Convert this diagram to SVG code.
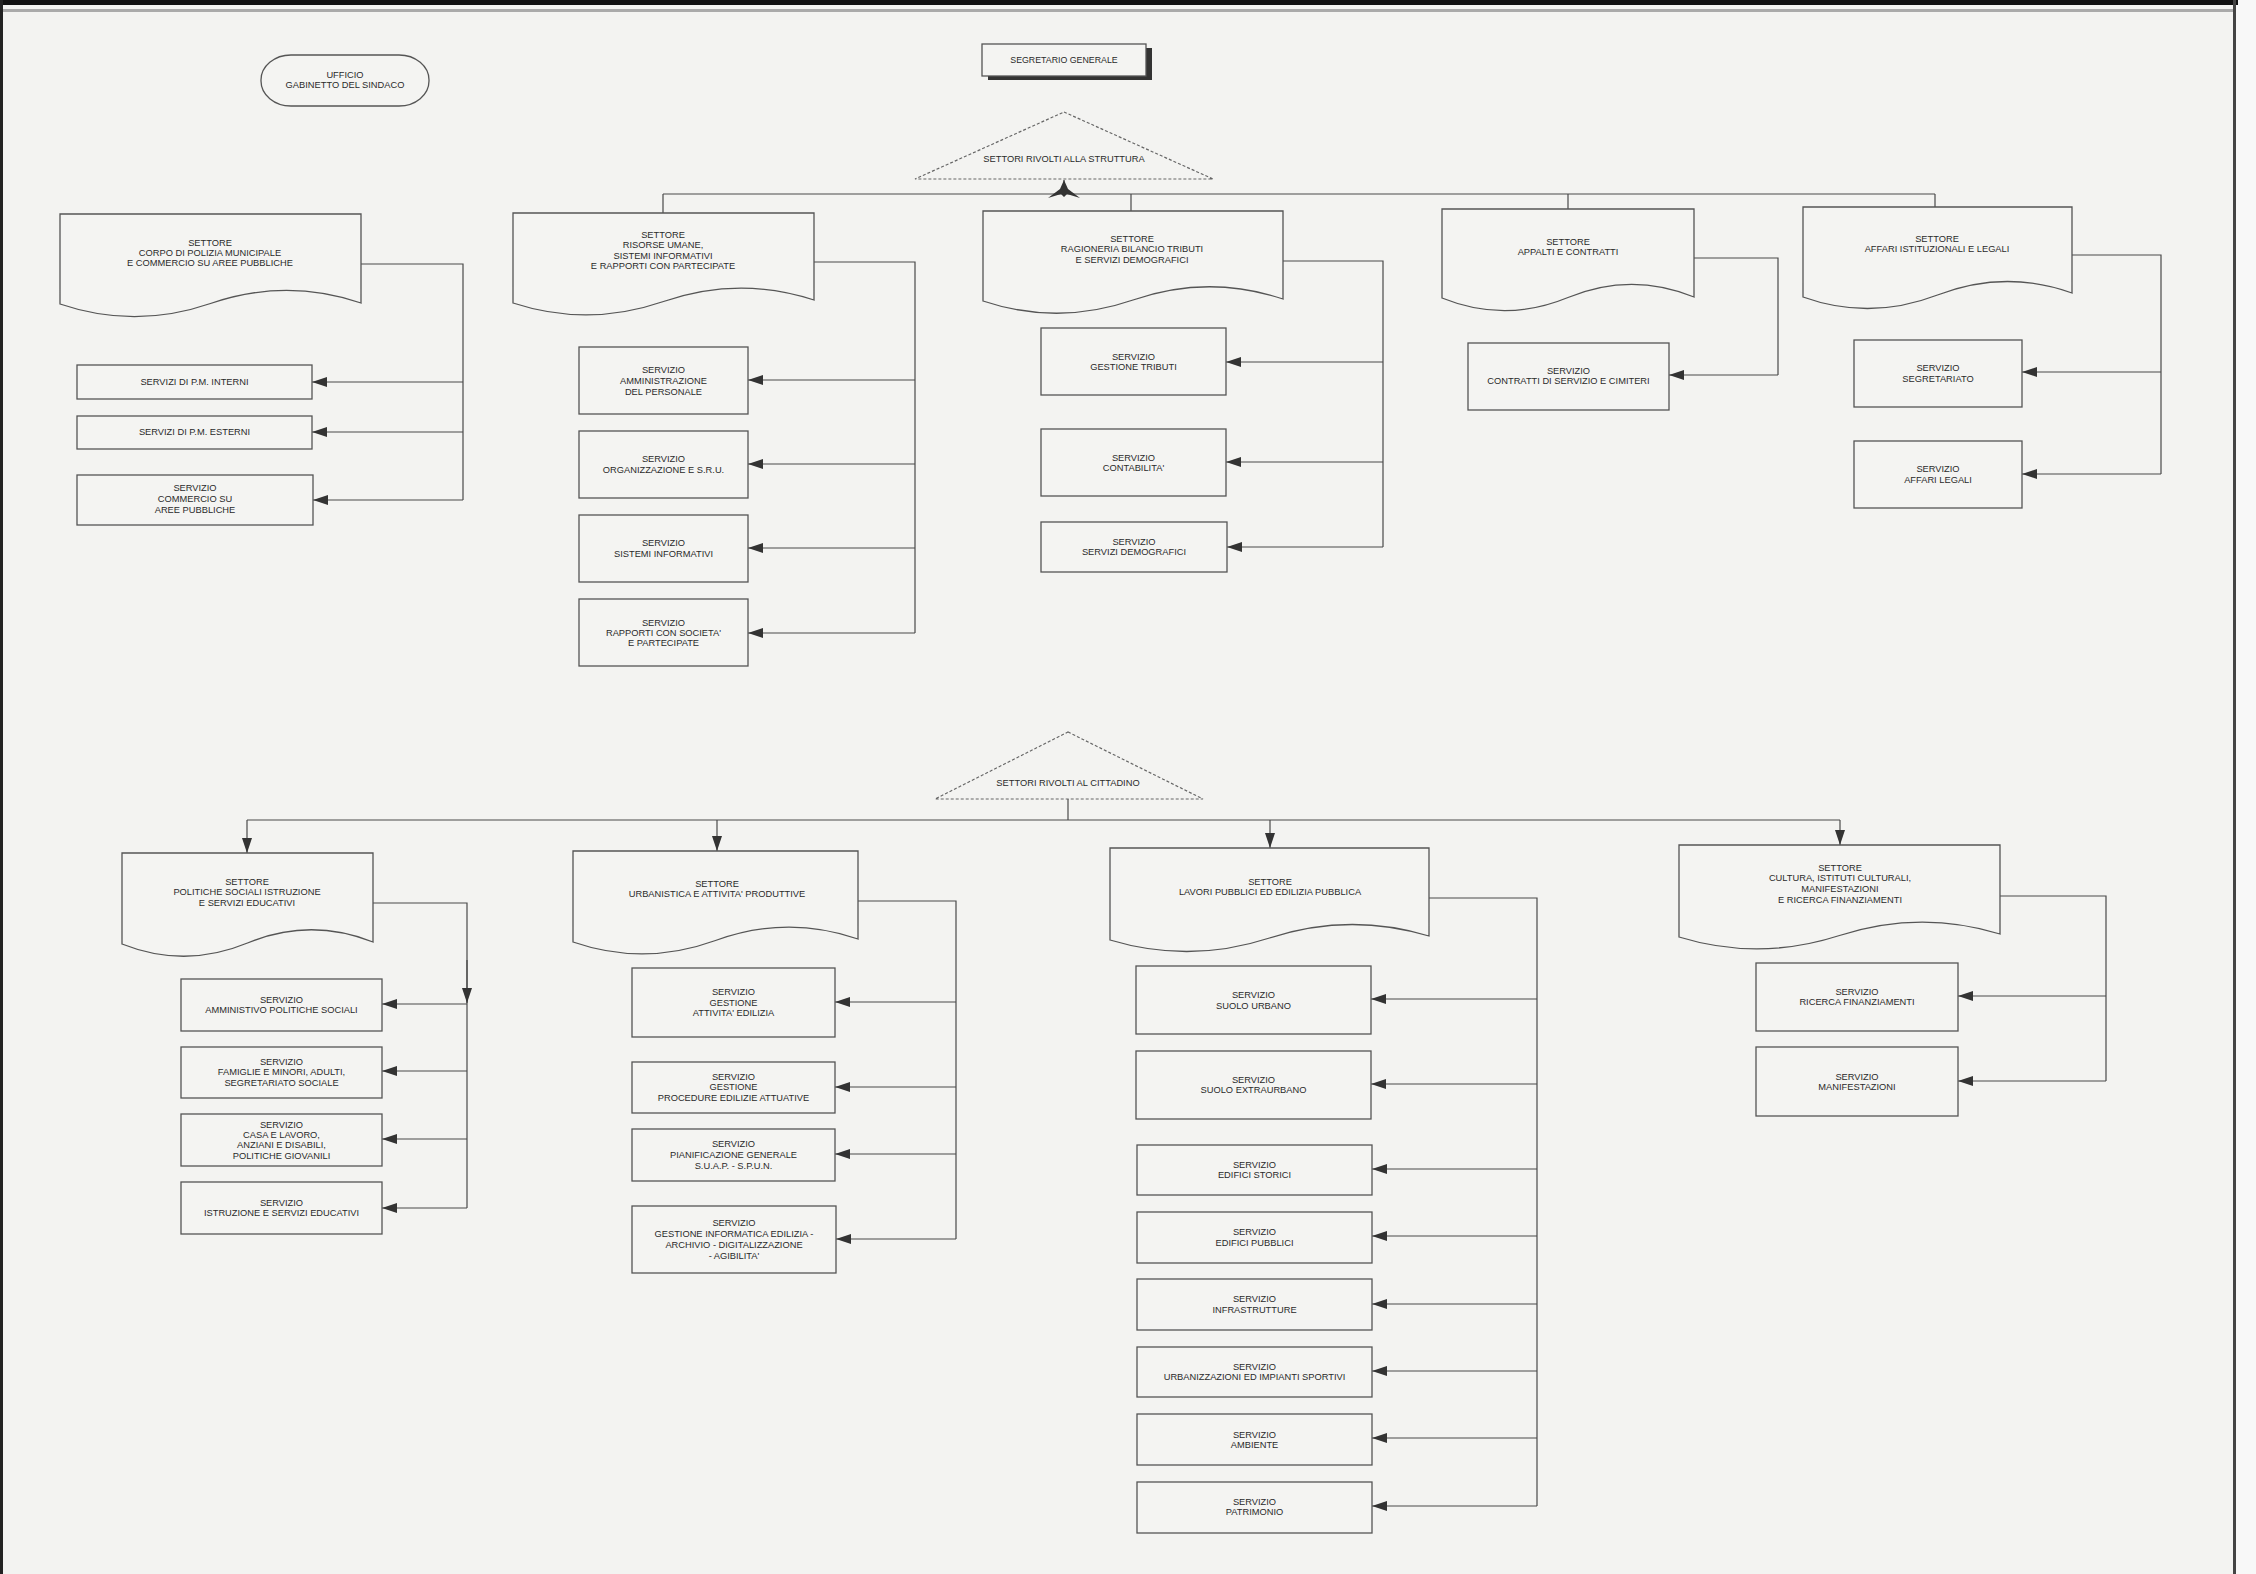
<svg xmlns="http://www.w3.org/2000/svg" width="2256" height="1574" viewBox="0 0 2256 1574">
<style>
.box{fill:#f4f4f2;stroke:#555;stroke-width:1.3}
.ln{fill:none;stroke:#4a4a4a;stroke-width:1.2}
.arr{marker-end:url(#ah)}
.dot{fill:none;stroke:#666;stroke-width:1.2;stroke-dasharray:3 2}
text{font-family:"Liberation Sans",Arial,sans-serif;font-size:9.3px;fill:#2a2a2a;text-anchor:middle}
</style>
<defs>
<marker id="ah" markerUnits="userSpaceOnUse" markerWidth="16" markerHeight="11" refX="15" refY="5" orient="auto"><path d="M0,0 L15,5 L0,10 Z" fill="#333"/></marker>
</defs>
<rect x="0" y="0" width="2256" height="1574" fill="#f3f3f1"/>
<rect x="2236" y="0" width="20" height="1574" fill="#f8f8f8"/>
<rect x="0" y="0" width="2238" height="5" fill="#111"/>
<rect x="0" y="9" width="2236" height="3" fill="#aaa"/>
<rect x="0" y="0" width="3" height="1574" fill="#222"/>
<rect x="2233" y="0" width="3" height="1574" fill="#444"/>

<g id="connectors">
<!-- top bus -->
<path class="ln" d="M1064,180 V194"/>
<path class="ln" d="M663,194 H1935"/>
<path class="ln" d="M663,194 V213 M1131,194 V211 M1568,194 V209 M1935,194 V207"/>
<polygon points="1064,180 1068,189 1080,198 1067,194 1064,197 1061,194 1048,198 1060,189" fill="#333"/>
<!-- polizia -->
<path class="ln" d="M361,264 H463 V500"/>
<path class="ln arr" d="M463,382 H312"/>
<path class="ln arr" d="M463,432 H312"/>
<path class="ln arr" d="M463,500 H313"/>
<!-- risorse -->
<path class="ln" d="M814,262 H915 V633"/>
<path class="ln arr" d="M915,380 H748"/>
<path class="ln arr" d="M915,464 H748"/>
<path class="ln arr" d="M915,548 H748"/>
<path class="ln arr" d="M915,633 H748"/>
<!-- ragioneria -->
<path class="ln" d="M1283,261 H1383 V547"/>
<path class="ln arr" d="M1383,362 H1226"/>
<path class="ln arr" d="M1383,462 H1226"/>
<path class="ln arr" d="M1383,547 H1227"/>
<!-- appalti -->
<path class="ln" d="M1694,258 H1778 V375"/>
<path class="ln arr" d="M1778,375 H1669"/>
<!-- affari -->
<path class="ln" d="M2072,255 H2161 V474"/>
<path class="ln arr" d="M2161,372 H2022"/>
<path class="ln arr" d="M2161,474 H2022"/>
<!-- lower bus -->
<path class="ln" d="M1068,799 V820"/>
<path class="ln" d="M247,820 H1840"/>
<path class="ln arr" d="M247,820 V853"/>
<path class="ln arr" d="M717,820 V851"/>
<path class="ln arr" d="M1270,820 V848"/>
<path class="ln arr" d="M1840,820 V845"/>
<!-- politiche -->
<path class="ln" d="M373,903 H467 V1208"/>
<path class="ln arr" d="M467,960 V1003"/>
<path class="ln arr" d="M467,1004 H382"/>
<path class="ln arr" d="M467,1071 H382"/>
<path class="ln arr" d="M467,1139 H382"/>
<path class="ln arr" d="M467,1208 H382"/>
<!-- urbanistica -->
<path class="ln" d="M858,901 H956 V1239"/>
<path class="ln arr" d="M956,1002 H835"/>
<path class="ln arr" d="M956,1087 H835"/>
<path class="ln arr" d="M956,1154 H835"/>
<path class="ln arr" d="M956,1239 H836"/>
<!-- lavori -->
<path class="ln" d="M1429,898 H1537 V1506"/>
<path class="ln arr" d="M1537,999 H1371"/>
<path class="ln arr" d="M1537,1084 H1371"/>
<path class="ln arr" d="M1537,1169 H1372"/>
<path class="ln arr" d="M1537,1236 H1372"/>
<path class="ln arr" d="M1537,1304 H1372"/>
<path class="ln arr" d="M1537,1371 H1372"/>
<path class="ln arr" d="M1537,1438 H1372"/>
<path class="ln arr" d="M1537,1506 H1372"/>
<!-- cultura -->
<path class="ln" d="M2000,896 H2106 V1081"/>
<path class="ln arr" d="M2106,996 H1958"/>
<path class="ln arr" d="M2106,1081 H1958"/>
</g>

<g id="n-ufficio">
<rect class="box" x="261" y="55" width="168" height="51" rx="30" ry="25"/>
<text x="345" y="78.3">UFFICIO</text>
<text x="345" y="88.3">GABINETTO DEL SINDACO</text>
</g>

<g id="n-segretario">
<rect x="988" y="48" width="164" height="32" fill="#333"/>
<rect class="box" x="982" y="44" width="164" height="32"/>
<text x="1064" y="63.3" style="font-size:8.8px">SEGRETARIO GENERALE</text>
</g>

<g id="n-tri-struttura">
<path class="dot" d="M1064,112 L1213,179 H915 Z"/>
<text x="1064" y="162.3">SETTORI RIVOLTI ALLA STRUTTURA</text>
</g>

<g id="n-s-polizia">
<path class="box" d="M60,214 H361 V303 Q286,277.5 210.5,303.5 Q135,329.5 60,304 Z"/>
<text x="210" y="246.3">SETTORE</text>
<text x="210" y="256.3">CORPO DI POLIZIA MUNICIPALE</text>
<text x="210" y="266.3">E COMMERCIO SU AREE PUBBLICHE</text>
</g>
<g id="n-pm-interni">
<rect class="box" x="77" y="365" width="235" height="34"/>
<text x="194.5" y="385.3">SERVIZI DI P.M. INTERNI</text>
</g>
<g id="n-pm-esterni">
<rect class="box" x="77" y="416" width="235" height="33"/>
<text x="194.5" y="435.3">SERVIZI DI P.M. ESTERNI</text>
</g>
<g id="n-commercio">
<rect class="box" x="77" y="475" width="236" height="50"/>
<text x="195" y="491.3">SERVIZIO</text>
<text x="195" y="502.3">COMMERCIO SU</text>
<text x="195" y="513.3">AREE PUBBLICHE</text>
</g>

<g id="n-s-risorse">
<path class="box" d="M513,213 H814 V300 Q739,275.5 663.5,301.5 Q588,327.5 513,303 Z"/>
<text x="663" y="238.3">SETTORE</text>
<text x="663" y="248.3">RISORSE UMANE,</text>
<text x="663" y="259.3">SISTEMI INFORMATIVI</text>
<text x="663" y="269.3">E RAPPORTI CON PARTECIPATE</text>
</g>
<g id="n-amministrazione">
<rect class="box" x="579" y="347" width="169" height="67"/>
<text x="663.5" y="373.3">SERVIZIO</text>
<text x="663.5" y="384.3">AMMINISTRAZIONE</text>
<text x="663.5" y="395.3">DEL PERSONALE</text>
</g>
<g id="n-organizzazione">
<rect class="box" x="579" y="431" width="169" height="67"/>
<text x="663.5" y="462.3">SERVIZIO</text>
<text x="663.5" y="473.3">ORGANIZZAZIONE E S.R.U.</text>
</g>
<g id="n-sistemi">
<rect class="box" x="579" y="515" width="169" height="67"/>
<text x="663.5" y="546.3">SERVIZIO</text>
<text x="663.5" y="557.3">SISTEMI INFORMATIVI</text>
</g>
<g id="n-rapporti">
<rect class="box" x="579" y="599" width="169" height="67"/>
<text x="663.5" y="626.3">SERVIZIO</text>
<text x="663.5" y="636.3">RAPPORTI CON SOCIETA'</text>
<text x="663.5" y="646.3">E PARTECIPATE</text>
</g>

<g id="n-s-ragioneria">
<path class="box" d="M983,211 H1283 V299 Q1208,274 1133,300 Q1058,326 983,301 Z"/>
<text x="1132" y="242.3">SETTORE</text>
<text x="1132" y="252.3">RAGIONERIA BILANCIO TRIBUTI</text>
<text x="1132" y="263.3">E SERVIZI DEMOGRAFICI</text>
</g>
<g id="n-tributi">
<rect class="box" x="1041" y="328" width="185" height="67"/>
<text x="1133.5" y="360.3">SERVIZIO</text>
<text x="1133.5" y="370.3">GESTIONE TRIBUTI</text>
</g>
<g id="n-contabilita">
<rect class="box" x="1041" y="429" width="185" height="67"/>
<text x="1133.5" y="461.3">SERVIZIO</text>
<text x="1133.5" y="471.3">CONTABILITA'</text>
</g>
<g id="n-demografici">
<rect class="box" x="1041" y="522" width="186" height="50"/>
<text x="1134" y="545.3">SERVIZIO</text>
<text x="1134" y="555.3">SERVIZI DEMOGRAFICI</text>
</g>

<g id="n-s-appalti">
<path class="box" d="M1442,209 H1694 V297 Q1631,271.5 1568,297.5 Q1505,323.5 1442,298 Z"/>
<text x="1568" y="245.3">SETTORE</text>
<text x="1568" y="255.3">APPALTI E CONTRATTI</text>
</g>
<g id="n-contratti">
<rect class="box" x="1468" y="343" width="201" height="67"/>
<text x="1568.5" y="374.3">SERVIZIO</text>
<text x="1568.5" y="384.3">CONTRATTI DI SERVIZIO E CIMITERI</text>
</g>

<g id="n-s-affari">
<path class="box" d="M1803,207 H2072 V293 Q2005,269 1937.5,295 Q1870,321 1803,297 Z"/>
<text x="1937" y="242.3">SETTORE</text>
<text x="1937" y="252.3">AFFARI ISTITUZIONALI E LEGALI</text>
</g>
<g id="n-segretariato">
<rect class="box" x="1854" y="340" width="168" height="67"/>
<text x="1938" y="371.3">SERVIZIO</text>
<text x="1938" y="382.3">SEGRETARIATO</text>
</g>
<g id="n-legali">
<rect class="box" x="1854" y="441" width="168" height="67"/>
<text x="1938" y="472.3">SERVIZIO</text>
<text x="1938" y="483.3">AFFARI LEGALI</text>
</g>

<g id="n-tri-cittadino">
<path class="dot" d="M1068,732 L1203,799 H935 Z"/>
<text x="1068" y="786.3">SETTORI RIVOLTI AL CITTADINO</text>
</g>

<g id="n-s-politiche">
<path class="box" d="M122,853 H373 V942 Q310,917 247.5,943 Q185,969 122,944 Z"/>
<text x="247" y="885.3">SETTORE</text>
<text x="247" y="895.3">POLITICHE SOCIALI ISTRUZIONE</text>
<text x="247" y="906.3">E SERVIZI EDUCATIVI</text>
</g>
<g id="n-amministivo">
<rect class="box" x="181" y="979" width="201" height="52"/>
<text x="281.5" y="1003.3">SERVIZIO</text>
<text x="281.5" y="1013.3">AMMINISTIVO POLITICHE SOCIALI</text>
</g>
<g id="n-famiglie">
<rect class="box" x="181" y="1047" width="201" height="51"/>
<text x="281.5" y="1065.3">SERVIZIO</text>
<text x="281.5" y="1075.3">FAMIGLIE E MINORI, ADULTI,</text>
<text x="281.5" y="1086.3">SEGRETARIATO SOCIALE</text>
</g>
<g id="n-casa">
<rect class="box" x="181" y="1114" width="201" height="52"/>
<text x="281.5" y="1128.3">SERVIZIO</text>
<text x="281.5" y="1138.3">CASA E LAVORO,</text>
<text x="281.5" y="1148.3">ANZIANI E DISABILI,</text>
<text x="281.5" y="1159.3">POLITICHE GIOVANILI</text>
</g>
<g id="n-istruzione">
<rect class="box" x="181" y="1182" width="201" height="52"/>
<text x="281.5" y="1206.3">SERVIZIO</text>
<text x="281.5" y="1216.3">ISTRUZIONE E SERVIZI EDUCATIVI</text>
</g>

<g id="n-s-urbanistica">
<path class="box" d="M573,851 H858 V939 Q787,914.5 715.5,940.5 Q644,966.5 573,942 Z"/>
<text x="717" y="887.3">SETTORE</text>
<text x="717" y="897.3">URBANISTICA E ATTIVITA' PRODUTTIVE</text>
</g>
<g id="n-edilizia">
<rect class="box" x="632" y="968" width="203" height="69"/>
<text x="733.5" y="995.3">SERVIZIO</text>
<text x="733.5" y="1006.3">GESTIONE</text>
<text x="733.5" y="1016.3">ATTIVITA' EDILIZIA</text>
</g>
<g id="n-procedure">
<rect class="box" x="632" y="1062" width="203" height="51"/>
<text x="733.5" y="1080.3">SERVIZIO</text>
<text x="733.5" y="1090.3">GESTIONE</text>
<text x="733.5" y="1101.3">PROCEDURE EDILIZIE ATTUATIVE</text>
</g>
<g id="n-pianificazione">
<rect class="box" x="632" y="1129" width="203" height="52"/>
<text x="733.5" y="1147.3">SERVIZIO</text>
<text x="733.5" y="1158.3">PIANIFICAZIONE GENERALE</text>
<text x="733.5" y="1169.3">S.U.A.P. - S.P.U.N.</text>
</g>
<g id="n-informatica">
<rect class="box" x="632" y="1206" width="204" height="67"/>
<text x="734" y="1226.3">SERVIZIO</text>
<text x="734" y="1237.3">GESTIONE INFORMATICA EDILIZIA -</text>
<text x="734" y="1248.3">ARCHIVIO - DIGITALIZZAZIONE</text>
<text x="734" y="1259.3">- AGIBILITA'</text>
</g>

<g id="n-s-lavori">
<path class="box" d="M1110,848 H1429 V936 Q1349,912 1269.5,938 Q1190,964 1110,940 Z"/>
<text x="1270" y="885.3">SETTORE</text>
<text x="1270" y="895.3">LAVORI PUBBLICI ED EDILIZIA PUBBLICA</text>
</g>
<g id="n-suolo-urbano">
<rect class="box" x="1136" y="966" width="235" height="68"/>
<text x="1253.5" y="998.3">SERVIZIO</text>
<text x="1253.5" y="1009.3">SUOLO URBANO</text>
</g>
<g id="n-suolo-extra">
<rect class="box" x="1136" y="1051" width="235" height="68"/>
<text x="1253.5" y="1083.3">SERVIZIO</text>
<text x="1253.5" y="1093.3">SUOLO EXTRAURBANO</text>
</g>
<g id="n-storici">
<rect class="box" x="1137" y="1145" width="235" height="50"/>
<text x="1254.5" y="1168.3">SERVIZIO</text>
<text x="1254.5" y="1178.3">EDIFICI STORICI</text>
</g>
<g id="n-pubblici">
<rect class="box" x="1137" y="1212" width="235" height="51"/>
<text x="1254.5" y="1235.3">SERVIZIO</text>
<text x="1254.5" y="1246.3">EDIFICI PUBBLICI</text>
</g>
<g id="n-infrastrutture">
<rect class="box" x="1137" y="1279" width="235" height="51"/>
<text x="1254.5" y="1302.3">SERVIZIO</text>
<text x="1254.5" y="1313.3">INFRASTRUTTURE</text>
</g>
<g id="n-urbanizzazioni">
<rect class="box" x="1137" y="1347" width="235" height="50"/>
<text x="1254.5" y="1370.3">SERVIZIO</text>
<text x="1254.5" y="1380.3">URBANIZZAZIONI ED IMPIANTI SPORTIVI</text>
</g>
<g id="n-ambiente">
<rect class="box" x="1137" y="1414" width="235" height="51"/>
<text x="1254.5" y="1438.3">SERVIZIO</text>
<text x="1254.5" y="1448.3">AMBIENTE</text>
</g>
<g id="n-patrimonio">
<rect class="box" x="1137" y="1482" width="235" height="51"/>
<text x="1254.5" y="1505.3">SERVIZIO</text>
<text x="1254.5" y="1515.3">PATRIMONIO</text>
</g>

<g id="n-s-cultura">
<path class="box" d="M1679,845 H2000 V934 Q1920,909.5 1839.5,935.5 Q1759,961.5 1679,937 Z"/>
<text x="1840" y="871.3">SETTORE</text>
<text x="1840" y="881.3">CULTURA, ISTITUTI CULTURALI,</text>
<text x="1840" y="892.3">MANIFESTAZIONI</text>
<text x="1840" y="903.3">E RICERCA FINANZIAMENTI</text>
</g>
<g id="n-ricerca">
<rect class="box" x="1756" y="963" width="202" height="68"/>
<text x="1857" y="995.3">SERVIZIO</text>
<text x="1857" y="1005.3">RICERCA FINANZIAMENTI</text>
</g>
<g id="n-manifestazioni">
<rect class="box" x="1756" y="1047" width="202" height="69"/>
<text x="1857" y="1080.3">SERVIZIO</text>
<text x="1857" y="1090.3">MANIFESTAZIONI</text>
</g>
</svg>
